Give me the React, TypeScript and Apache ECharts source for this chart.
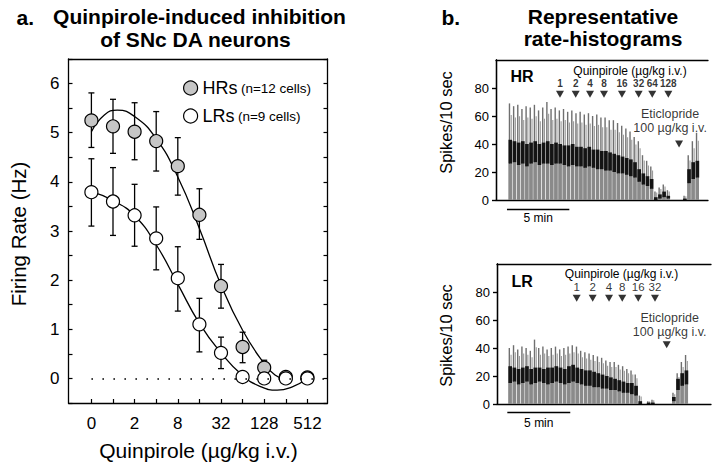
import React, { useEffect, useRef } from 'react';
import * as echarts from 'echarts';

const FONT = '"Liberation Sans", Arial, Helvetica, sans-serif';

// ---- Panel a: dose-response ----
const doseLabels = ['0', '1', '2', '4', '8', '16', '32', '64', '128', '256', '512'];
const groupNames = ['HRs', 'LRs'];
const groupCells = [12, 9];
const hrMean = [5.25, 5.13, 5.02, 4.83, 4.32, 3.33, 1.88, 0.64, 0.22, 0.03, 0.02];
const hrErrLow = [4.7, 4.58, 4.45, 4.22, 3.73, 2.83, 1.43, 0.32, 0.07, 0.03, 0.02];
const hrErrHigh = [5.81, 5.68, 5.61, 5.43, 4.9, 3.86, 2.32, 0.94, 0.37, 0.03, 0.02];
const lrMean = [3.79, 3.6, 3.32, 2.85, 2.04, 1.1, 0.52, 0.03, 0.0, 0.0, 0.0];
const lrErrLow = [3.1, 2.91, 2.69, 2.21, 1.37, 0.54, 0.2, 0.03, 0.0, 0.0, 0.0];
const lrErrHigh = [4.47, 4.29, 3.95, 3.49, 2.68, 1.63, 0.84, 0.03, 0.0, 0.0, 0.0];
const hrFitX = [0, 0.6, 1.2, 2, 3, 4, 5, 6, 7, 8, 8.5, 9.05];
const hrFitY = [5.02, 5.36, 5.46, 5.33, 4.88, 4.1, 3.05, 1.9, 0.98, 0.3, 0.07, -0.04];
const lrFitX = [0, 1, 2, 3, 4, 5, 6, 7, 7.8, 8.6, 9.3, 10];
const lrFitY = [3.8, 3.62, 3.31, 2.72, 1.92, 1.12, 0.52, 0.06, -0.16, -0.24, -0.17, 0];

// ---- Panel b: rate histograms (20-s bins, minutes) ----
const BIN_MIN = 1 / 3;
const hrStartMin = 1.0;
const hrPeak = [69, 67, 68, 65, 67, 66, 68, 64, 66, 70, 65, 66, 64, 65, 63, 64, 62, 63, 61, 62, 60, 61, 59, 59, 57, 57, 55, 53, 51, 49, 45, 42, 32, 28, 24, 6, 9, 11, 7, 0, 0, 0, 3, 32, 42, 48];
const hrLow = [26, 27, 25, 26, 24, 26, 27, 25, 26, 26, 25, 26, 26, 25, 24, 25, 24, 24, 23, 24, 23, 22, 22, 21, 21, 20, 19, 19, 18, 17, 16, 13, 11, 10, 8, 0, 1, 2, 1, 0, 0, 0, 0, 12, 15, 16];
const hrHigh = [43, 42, 41, 42, 40, 41, 42, 40, 41, 42, 40, 41, 40, 39, 39, 40, 38, 38, 37, 38, 36, 36, 35, 35, 34, 33, 32, 31, 30, 29, 27, 22, 19, 17, 15, 2, 4, 6, 3, 0, 0, 0, 1, 22, 27, 28];
const lrStartMin = 0.9;
const lrPeak = [40, 42, 39, 41, 40, 38, 46, 40, 41, 39, 40, 41, 39, 40, 41, 42, 41, 38, 37, 36, 35, 34, 33, 31, 30, 30, 28, 27, 25, 24, 21, 6, 0, 2, 3, 0, 0, 0, 0, 8, 22, 30, 35];
const lrLow = [15, 16, 14, 15, 16, 14, 15, 16, 15, 14, 15, 16, 15, 14, 15, 16, 15, 14, 13, 13, 12, 12, 11, 11, 10, 10, 9, 8, 8, 7, 6, 0, 0, 0, 0, 0, 0, 0, 0, 2, 10, 13, 14];
const lrHigh = [27, 26, 25, 26, 27, 25, 26, 26, 25, 26, 26, 27, 26, 25, 27, 28, 26, 25, 24, 24, 23, 22, 21, 20, 19, 18, 17, 16, 15, 15, 13, 2, 0, 1, 1, 0, 0, 0, 0, 5, 18, 22, 24];

const hrDoses = ['1', '2', '4', '8', '16', '32', '64', '128'];
const hrDoseTimes = [5.13, 6.39, 7.54, 8.66, 10.1, 11.44, 12.53, 13.82];
const hrEticTime = 14.68;
const lrDoses = ['1', '2', '4', '8', '16', '32'];
const lrDoseTimes = [6.33, 7.6, 8.9, 9.95, 11.22, 12.55];
const lrEticTime = 13.48;
const hrScaleStart = 0.88;
const lrScaleStart = 0.82;
const scaleLenMin = 5;

const histData = (start: number, peak: number[], lo: number[], hi: number[]) =>
  peak.map((p, i) => [start + (i + 0.5) * BIN_MIN, p, lo[i], hi[i]]);

const errData = (lo: number[], hi: number[]) =>
  lo.map((l, i) => [i, l, hi[i]]).filter((d) => d[2] - d[1] > 0.05);

const errorRender = (params: any, api: any) => {
  const x = api.value(0);
  const pLo = api.coord([x, api.value(1)]);
  const pHi = api.coord([x, api.value(2)]);
  const cap = 3;
  const st = { stroke: '#000', lineWidth: 1.3 };
  return {
    type: 'group',
    children: [
      { type: 'line', shape: { x1: pLo[0], y1: pLo[1], x2: pHi[0], y2: pHi[1] }, style: st },
      { type: 'line', shape: { x1: pHi[0] - cap, y1: pHi[1], x2: pHi[0] + cap, y2: pHi[1] }, style: st },
      { type: 'line', shape: { x1: pLo[0] - cap, y1: pLo[1], x2: pLo[0] + cap, y2: pLo[1] }, style: st },
    ],
  };
};

const histRender = (params: any, api: any) => {
  const t = api.value(0);
  const peak = api.value(1);
  const lo = api.value(2);
  const hi = api.value(3);
  if (!(peak > 0)) return null;
  const a = api.coord([t - BIN_MIN / 2, 0]);
  const b = api.coord([t + BIN_MIN / 2, peak]);
  const full = b[0] - a[0];
  const yLo = api.coord([t, lo])[1];
  const yHi = api.coord([t, hi])[1];
  const children: any[] = [
    { type: 'rect', shape: { x: a[0] + 0.3, y: b[1], width: 1.4, height: a[1] - b[1] }, style: { fill: '#6f6f6f' } },
    { type: 'rect', shape: { x: a[0] + 2.2, y: b[1] + (a[1] - b[1]) * 0.12, width: 1.1, height: (a[1] - b[1]) * 0.88 }, style: { fill: '#9a9a9a' } },
  ];
  if (lo > 0) children.push({ type: 'rect', shape: { x: a[0], y: yLo, width: full - 0.7, height: a[1] - yLo }, style: { fill: '#8a8a8a' } });
  if (hi > lo) children.push({ type: 'rect', shape: { x: a[0], y: yHi, width: full - 0.5, height: yLo - yHi }, style: { fill: '#141414' } });
  return { type: 'group', children };
};

const black = { color: '#000', width: 1.3 };

export default function App() {
  const ref = useRef<HTMLDivElement>(null);
  useEffect(() => {
    if (!ref.current) return;
    const chart = echarts.init(ref.current, undefined, { renderer: 'svg' });

    const boxAxis = (grid: number, pos: string, min: number, max: number) => ({
      gridIndex: grid, type: 'value', position: pos, min, max,
      axisLine: { show: true, onZero: false, lineStyle: black },
      axisTick: { show: false }, axisLabel: { show: false }, splitLine: { show: false },
    });

    const histY = (grid: number, pos: string, labels: boolean) => ({
      gridIndex: grid, type: 'value', position: pos, min: 0, max: 100,
      axisLine: { show: true, lineStyle: black },
      axisTick: { show: true, inside: !labels, length: 4, customValues: [0, 20, 40, 60, 80], lineStyle: { color: '#000', width: 1.2 } },
      axisLabel: { show: labels, customValues: [0, 20, 40, 60, 80], fontSize: 13, color: '#000', fontFamily: FONT, margin: 7 },
      splitLine: { show: false },
    });

    const injectSeries = (xi: number, times: number[], doses: string[], bold: boolean, size: number) => ({
      type: 'scatter', xAxisIndex: xi, yAxisIndex: xi,
      symbol: 'triangle', symbolRotate: 180, symbolSize: [8, 7],
      itemStyle: { color: '#000' },
      data: times.map((t, i) => ({ name: doses[i], value: [t, 75.5] })),
      label: { show: true, position: 'top', distance: 2, formatter: '{b}', fontSize: size, lineHeight: size, fontWeight: bold ? 'bold' : 'normal', color: '#000', fontFamily: FONT },
      labelLayout: { hideOverlap: false },
      z: 5,
    });

    const eticSeries = (xi: number, t: number, y: number, dist: number, off: number) => ({
      type: 'scatter', xAxisIndex: xi, yAxisIndex: xi,
      symbol: 'triangle', symbolRotate: 180, symbolSize: [8, 7],
      itemStyle: { color: '#000' },
      data: [{ name: 'Eticlopride', value: [t, y] }],
      label: { show: true, position: 'top', distance: dist, offset: [off, 0], formatter: 'Eticlopride\n100 µg/kg i.v.', fontSize: 12.5, lineHeight: 14, color: '#000', fontFamily: FONT, align: 'center' },
      z: 5,
    });

    chart.setOption({
      animation: false,
      backgroundColor: '#fff',
      textStyle: { fontFamily: FONT },
      grid: [
        { left: 68.5, top: 59, width: 259, height: 344 },
        { left: 496, top: 60, width: 212, height: 140 },
        { left: 497, top: 264, width: 214, height: 140 },
      ],
      legend: {
        orient: 'vertical', left: 178, top: 74, itemWidth: 14, itemHeight: 14, itemGap: 10,
        data: groupNames,
        itemStyle: { borderColor: '#000', borderWidth: 1.2 },
        formatter: (name: string) => `{a|${name}} {b|(n=${groupCells[groupNames.indexOf(name)]} cells)}`,
        textStyle: {
          rich: {
            a: { fontSize: 18, color: '#000', fontFamily: FONT },
            b: { fontSize: 13.5, color: '#000', fontFamily: FONT },
          },
        },
      },
      xAxis: [
        {
          gridIndex: 0, type: 'value', position: 'bottom', min: -1.06, max: 10.93,
          axisLine: { show: true, onZero: false, lineStyle: black },
          axisTick: { show: true, inside: true, length: 4, customValues: [0, 1, 2, 3, 4, 5, 6, 7, 8, 9, 10], lineStyle: { color: '#000', width: 1.2 } },
          axisLabel: { customValues: [0, 2, 4, 6, 8, 10], formatter: (v: number) => doseLabels[Math.round(v)], fontSize: 17, color: '#000', fontFamily: FONT, margin: 12 },
          splitLine: { show: false },
        },
        boxAxis(0, 'top', -1.06, 10.93),
        boxAxis(1, 'bottom', 0, 17),
        boxAxis(1, 'top', 0, 17),
        boxAxis(2, 'bottom', 0, 17),
        boxAxis(2, 'top', 0, 17),
      ],
      yAxis: [
        {
          gridIndex: 0, type: 'value', position: 'left', min: -0.5, max: 6.5, interval: 0.5,
          axisLine: { show: true, onZero: false, lineStyle: black },
          axisTick: { show: true, inside: true, length: 4, lineStyle: { color: '#000', width: 1.2 } },
          axisLabel: { formatter: (v: number) => (Number.isInteger(v) ? String(v) : ''), fontSize: 17, color: '#000', fontFamily: FONT, margin: 9 },
          splitLine: { show: false },
        },
        {
          gridIndex: 0, type: 'value', position: 'right', min: -0.5, max: 6.5, interval: 0.5,
          axisLine: { show: true, onZero: false, lineStyle: black },
          axisTick: { show: true, inside: true, length: 4, lineStyle: { color: '#000', width: 1.2 } },
          axisLabel: { show: false },
          splitLine: { show: false },
        },
        histY(1, 'left', true),
        histY(1, 'right', false),
        histY(2, 'left', true),
        histY(2, 'right', false),
      ],
      series: [
        { type: 'custom', name: 'errHR', xAxisIndex: 0, yAxisIndex: 0, renderItem: errorRender, encode: { x: 0, y: [1, 2] }, data: errData(hrErrLow, hrErrHigh), z: 1 },
        { type: 'custom', name: 'errLR', xAxisIndex: 0, yAxisIndex: 0, renderItem: errorRender, encode: { x: 0, y: [1, 2] }, data: errData(lrErrLow, lrErrHigh), z: 1 },
        { type: 'line', name: 'fitHR', xAxisIndex: 0, yAxisIndex: 0, smooth: true, symbol: 'none', lineStyle: { color: '#000', width: 1.3 }, data: hrFitX.map((x, i) => [x, hrFitY[i]]), z: 2 },
        { type: 'line', name: 'fitLR', xAxisIndex: 0, yAxisIndex: 0, smooth: true, symbol: 'none', lineStyle: { color: '#000', width: 1.3 }, data: lrFitX.map((x, i) => [x, lrFitY[i]]), z: 2 },
        {
          type: 'scatter', name: 'HRs', xAxisIndex: 0, yAxisIndex: 0, symbolSize: 13,
          itemStyle: { color: '#c6c6c6', borderColor: '#000', borderWidth: 1.2, opacity: 1 },
          data: hrMean.map((v, i) => [i, v]), z: 4,
        },
        {
          type: 'scatter', name: 'LRs', xAxisIndex: 0, yAxisIndex: 0, symbolSize: 13,
          itemStyle: { color: '#ffffff', borderColor: '#000', borderWidth: 1.2, opacity: 1 },
          data: lrMean.map((v, i) => [i, v]), z: 4,
          markLine: {
            silent: true, symbol: 'none', label: { show: false },
            lineStyle: { color: '#000', width: 1.6, type: [1.6, 9.4] },
            data: [[{ coord: [0, 0] }, { coord: [10.85, 0] }]],
          },
        },
        { type: 'custom', name: 'histHR', xAxisIndex: 2, yAxisIndex: 2, renderItem: histRender, encode: { x: 0, y: [1, 2, 3] }, data: histData(hrStartMin, hrPeak, hrLow, hrHigh) },
        { type: 'custom', name: 'histLR', xAxisIndex: 4, yAxisIndex: 4, renderItem: histRender, encode: { x: 0, y: [1, 2, 3] }, data: histData(lrStartMin, lrPeak, lrLow, lrHigh) },
        injectSeries(2, hrDoseTimes, hrDoses, true, 10),
        eticSeries(2, hrEticTime, 40, 6, -9),
        injectSeries(4, lrDoseTimes, lrDoses, false, 11.5),
        eticSeries(4, lrEticTime, 42.3, 2, 3),
      ],
    });

    const h1 = chart.convertToPixel({ gridIndex: 1 } as any, [hrScaleStart, 0]) as number[];
    const h2 = chart.convertToPixel({ gridIndex: 1 } as any, [hrScaleStart + scaleLenMin, 0]) as number[];
    const l1 = chart.convertToPixel({ gridIndex: 2 } as any, [lrScaleStart, 0]) as number[];
    const l2 = chart.convertToPixel({ gridIndex: 2 } as any, [lrScaleStart + scaleLenMin, 0]) as number[];

    const txt = (x: number, y: number, text: string, size: number, opts: any = {}) => ({
      type: 'text', x, y, rotation: opts.rotation || 0,
      style: {
        text, fontSize: size, fontFamily: FONT, fontWeight: opts.bold ? 'bold' : 'normal',
        fill: '#000', align: opts.align || 'center', verticalAlign: 'middle',
      },
    });

    chart.setOption({
      graphic: [
        txt(16.5, 17, 'a.', 21, { bold: true, align: 'left' }),
        txt(199.5, 16.5, 'Quinpirole-induced inhibition', 21, { bold: true }),
        txt(195.5, 39, 'of SNc DA neurons', 21, { bold: true }),
        txt(441.5, 17, 'b.', 21, { bold: true, align: 'left' }),
        txt(603, 16, 'Representative', 21, { bold: true }),
        txt(603, 38.5, 'rate-histograms', 21, { bold: true }),
        txt(18, 234, 'Firing Rate (Hz)', 20.5, { rotation: Math.PI / 2 }),
        txt(198.5, 450, 'Quinpirole (µg/kg i.v.)', 21),
        txt(446, 122.5, 'Spikes/10 sec', 16.5, { rotation: Math.PI / 2 }),
        txt(446, 335.5, 'Spikes/10 sec', 16.5, { rotation: Math.PI / 2 }),
        txt(510.5, 76.5, 'HR', 16, { bold: true, align: 'left' }),
        txt(511.5, 281.5, 'LR', 16, { bold: true, align: 'left' }),
        txt(630, 70.5, 'Quinpirole (µg/kg i.v.)', 12),
        txt(621.5, 273.5, 'Quinpirole (µg/kg i.v.)', 12),
        { type: 'line', shape: { x1: h1[0], y1: 209.5, x2: h2[0], y2: 209.5 }, style: { stroke: '#000', lineWidth: 1.4 } },
        txt((h1[0] + h2[0]) / 2, 218, '5 min', 12),
        { type: 'line', shape: { x1: l1[0], y1: 412.5, x2: l2[0], y2: 412.5 }, style: { stroke: '#000', lineWidth: 1.4 } },
        txt((l1[0] + l2[0]) / 2, 423, '5 min', 12),
      ],
    });

    return () => chart.dispose();
  }, []);

  return (
    <div
      ref={ref}
      style={{ position: 'fixed', left: 0, top: 0, width: 720, height: 464, background: '#fff' }}
    />
  );
}
